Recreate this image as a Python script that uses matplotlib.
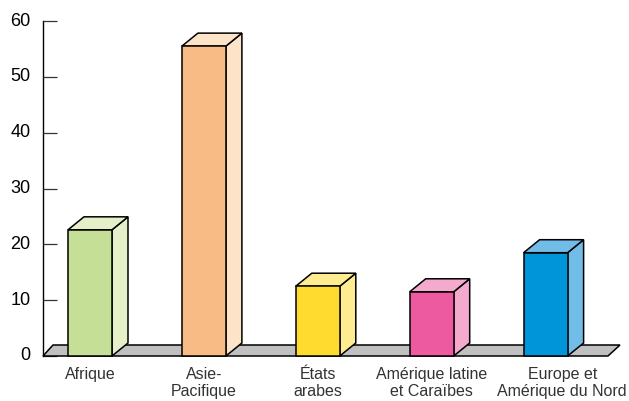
import matplotlib
matplotlib.use('Agg')
import matplotlib.pyplot as plt
import matplotlib.transforms as mtransforms
from matplotlib.patches import Polygon

categories = ['Afrique', 'Asie-\nPacifique', 'États\narabes',
              'Amérique latine\net Caraïbes', 'Europe et\nAmérique du Nord']
values = [22.6, 55.5, 12.5, 11.5, 18.5]
front_colors = ['#c5df96', '#f9bb86', '#fedb2e', '#ee5aa0', '#0095d8']
side_colors = ['#e5f0c8', '#fde3c8', '#feec90', '#f4aacc', '#72bde8']
yticks = [0, 10, 20, 30, 40, 50, 60]

plt.rcParams['font.family'] = ['Liberation Sans', 'DejaVu Sans']

W, H = 629, 401
fig = plt.figure(figsize=(W / 100, H / 100), dpi=100)
ax_l, ax_r, ax_t, ax_b = 43, 620, 21, 356
ax = fig.add_axes([ax_l / W, 1 - ax_b / H, (ax_r - ax_l) / W, (ax_b - ax_t) / H])

px_per_x = 113.9
px_per_y = (ax_b - ax_t) / 60.0
x_first = 90
xmin = -(x_first - ax_l) / px_per_x
xmax = xmin + (ax_r - ax_l) / px_per_x
ax.set_xlim(xmin, xmax)
ax.set_ylim(0, 60)

# depth offsets
dx = 16 / px_per_x
dy = 13 / px_per_y
bw = 44 / px_per_x

# floor
fdy = 11 / px_per_y
floor = Polygon([(xmin, 0), (xmin + (608 - ax_l) / px_per_x, 0),
                 (xmax, fdy), (xmin + 10 / px_per_x, fdy)],
                closed=True, facecolor='#c0c0c0', edgecolor='black',
                linewidth=1.1, clip_on=False, zorder=2)
ax.add_patch(floor)

for i, (v, fc, sc) in enumerate(zip(values, front_colors, side_colors)):
    l, r = i - bw / 2, i + bw / 2
    side = Polygon([(r, 0), (r + dx, dy), (r + dx, v + dy), (r, v)], closed=True,
                   facecolor=sc, edgecolor='black', linewidth=1.1, clip_on=False, zorder=3)
    top = Polygon([(l, v), (l + dx, v + dy), (r + dx, v + dy), (r, v)], closed=True,
                  facecolor=sc, edgecolor='black', linewidth=1.1, clip_on=False, zorder=3)
    front = Polygon([(l, 0), (r, 0), (r, v), (l, v)], closed=True,
                    facecolor=fc, edgecolor='black', linewidth=1.1, clip_on=False, zorder=4)
    for p in (side, top, front):
        ax.add_patch(p)

for s in ['top', 'right', 'bottom']:
    ax.spines[s].set_visible(False)
ax.spines['left'].set_linewidth(1.0)
ax.spines['left'].set_zorder(1)

ax.set_yticks(yticks)
ax.set_yticklabels([str(t) for t in yticks], fontsize=13, color='black')
ax.tick_params(axis='y', direction='in', length=10, width=0.9, pad=9, colors='#333333',
               labelcolor='black')
for t in ax.get_yticklabels():
    t.set_va('center')

ax.set_xticks([])
base = mtransforms.blended_transform_factory(ax.transData, ax.transAxes)
# horizontal nudges (points) so the long last labels do not collide
nudges = [0, 0, 0, 0, 12]
for i, (cat, nx) in enumerate(zip(categories, nudges)):
    tr = base + mtransforms.ScaledTranslation(nx / 72, -8 / 72, fig.dpi_scale_trans)
    ax.text(i, 0, cat, transform=tr, ha='center', va='top', fontsize=11.5,
            color='#333333', linespacing=1.15, multialignment='center')

ax.patch.set_visible(False)
fig.savefig('out.png', dpi=100)
